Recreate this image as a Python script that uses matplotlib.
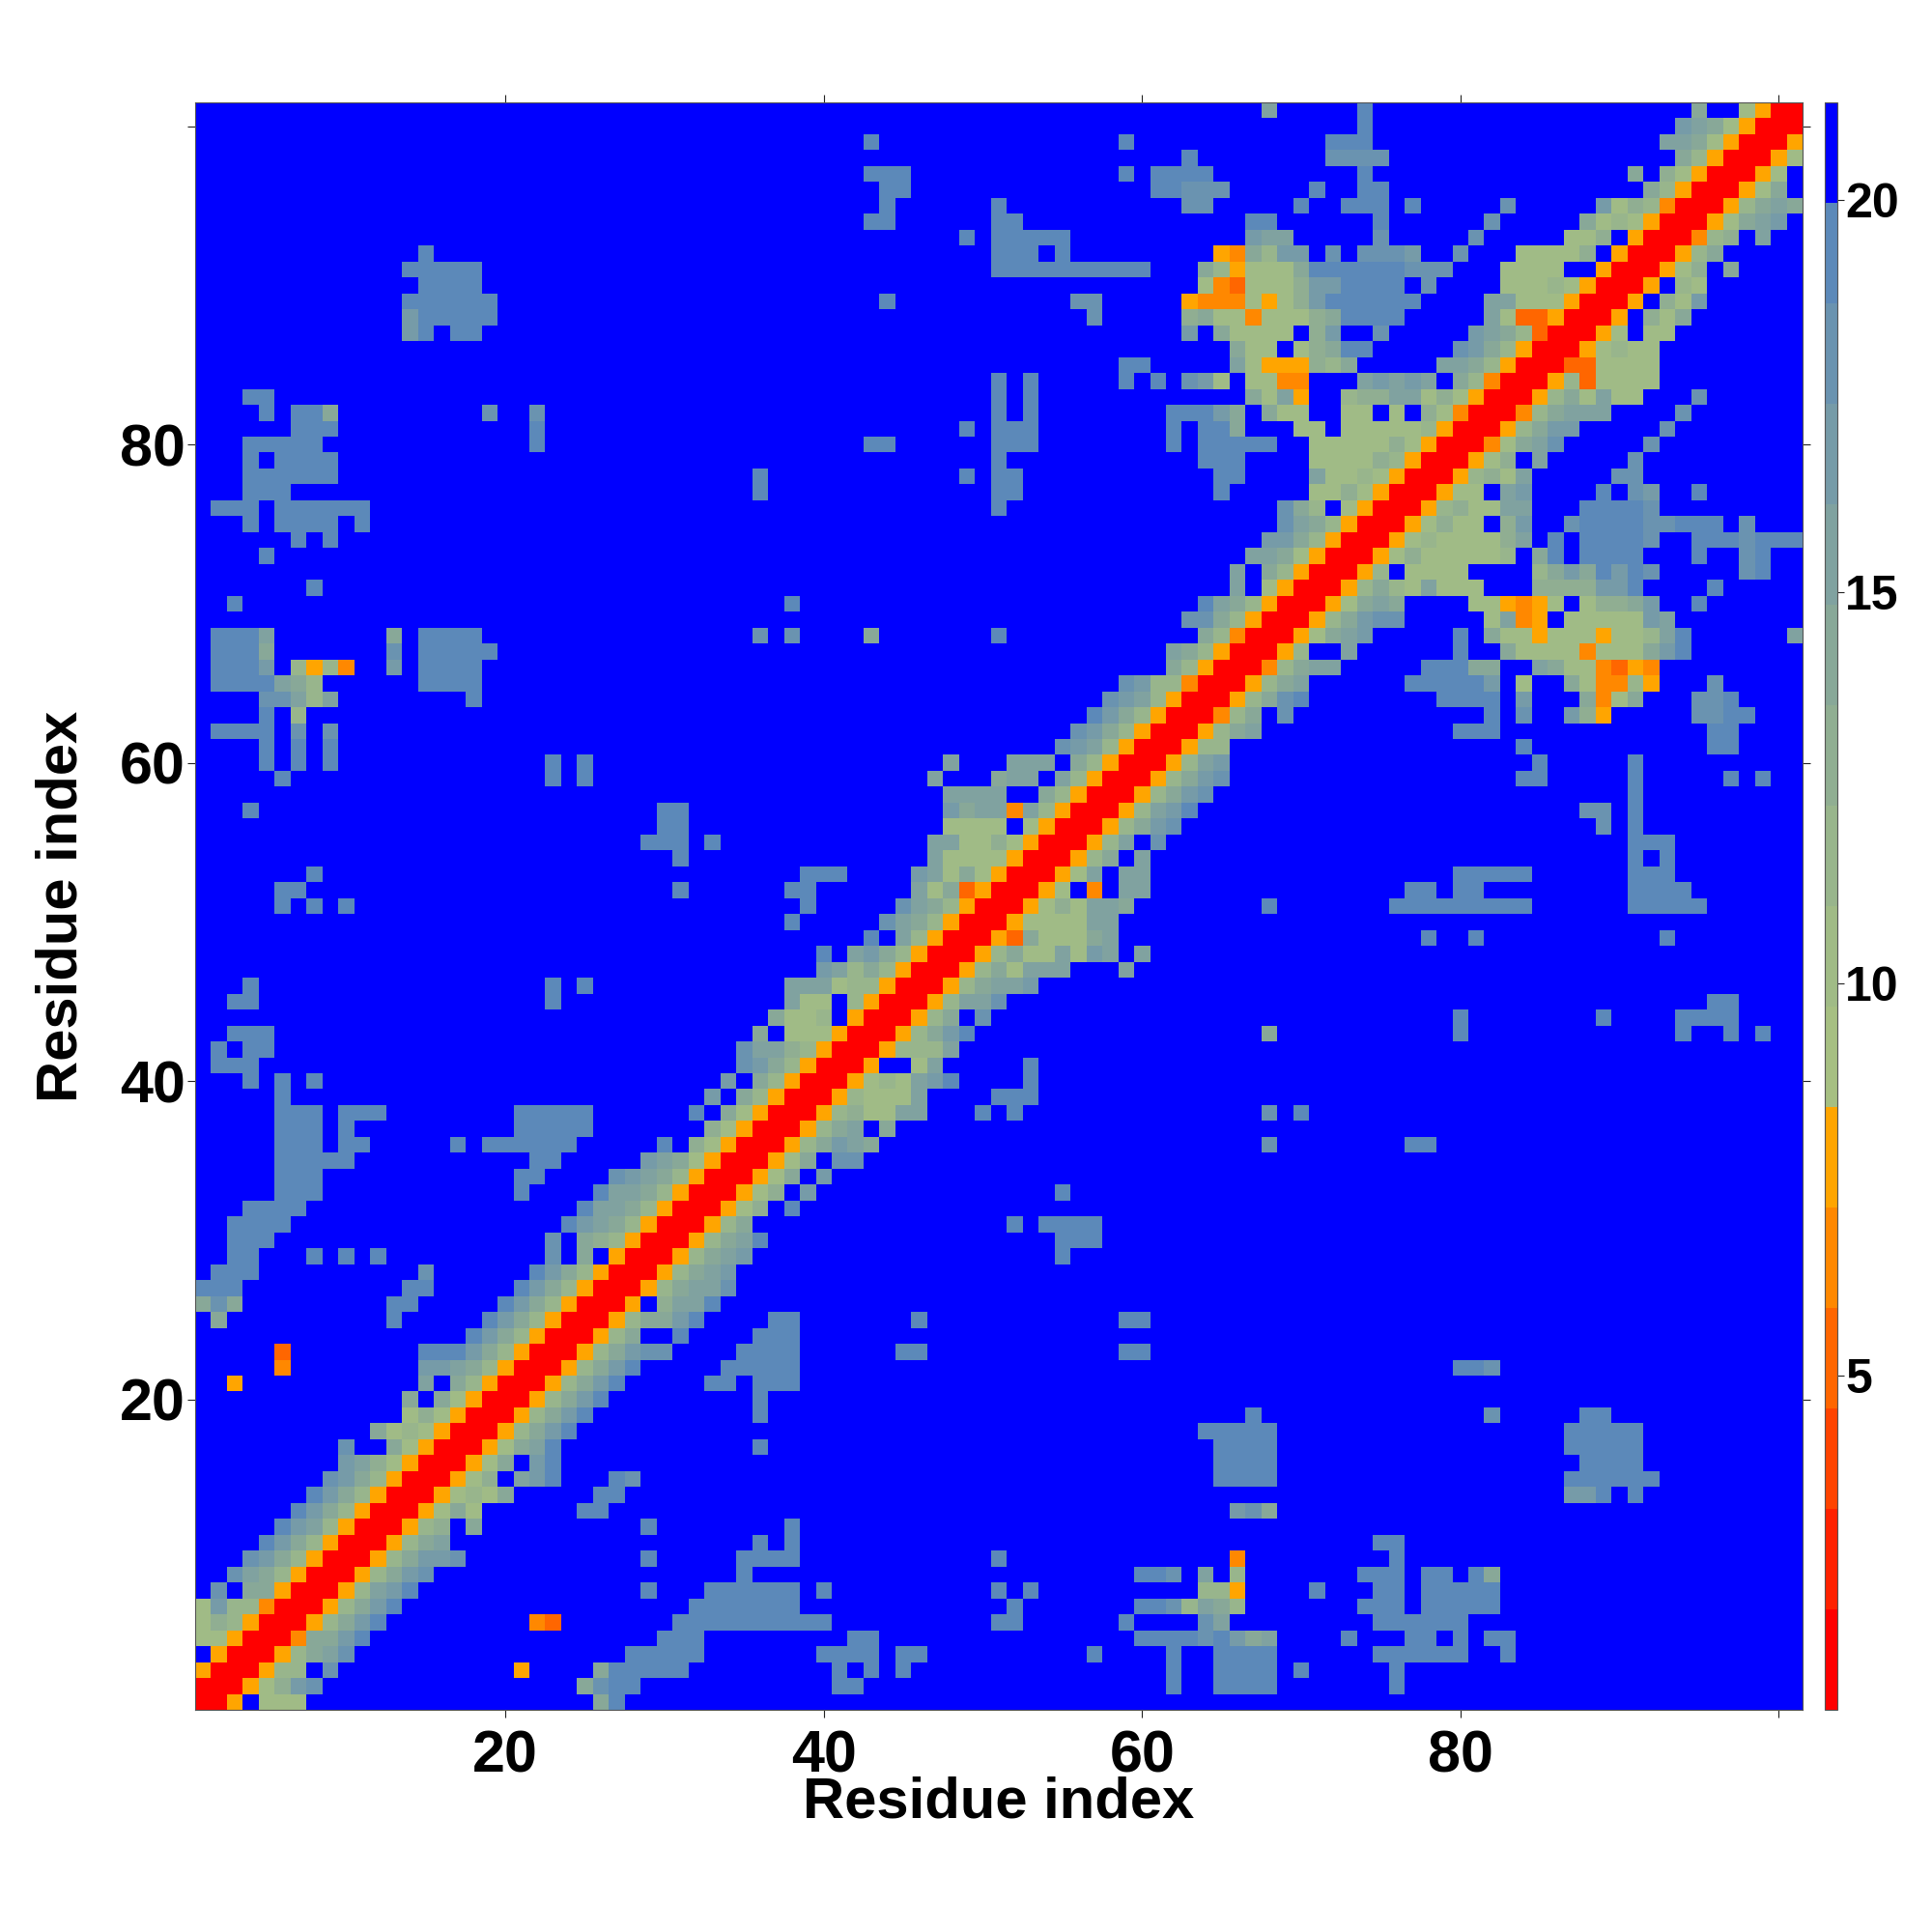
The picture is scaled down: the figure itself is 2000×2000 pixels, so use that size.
import matplotlib
matplotlib.use('Agg')
import matplotlib.pyplot as plt
from matplotlib.colors import ListedColormap, BoundaryNorm
import numpy as np

plt.rcParams['font.family'] = ['Liberation Sans', 'DejaVu Sans']
plt.rcParams['font.weight'] = 'bold'

n_res = 101
# colour bar levels, red (close) to blue (far)
level_edges = np.linspace(0.73, 21.25, 17)
level_colors = ['#ff0000', '#ff2200', '#ff4400', '#ff6600', '#ff8800', '#ffa500',
                '#a6bf82', '#a0bb86', '#98b58c', '#90ae92', '#88a898', '#80a2a0',
                '#769ba8', '#6a93b0', '#5c89b9', '#0000ff']
# one hex digit per cell = level index, every other cell is the blue level
level_digits = '0123456789abcdef'

# upper half of the map, symmetric: row -> "first_col:levels"
rows = {
    101: "68:b 74:e 95:a 98:7500",
    100: "74:e 94:cba7500",
    99: "43:e 59:e 72:eee 93:bba7500",
    98: "63:e 72:dddd 94:a8500",
    97: "43:eee 59:e 61:eeee 74:e 91:a 93:97500",
    96: "44:ee 61:eeddd 71:e 74:ee 92:a8500",
    95: "44:e 51:e 63:dd 70:e 73:eee 77:e 83:d 89:c798400",
    94: "43:ee 51:ee 67:ee 75:e 82:d 88:a787500",
    93: "49:e 51:eeeee 67:cbb 75:d 81:d 87:779 91:500",
    92: "15:e 51:eee 55:e 65:54a8cc 72:d 74:dddc 80:d 84:77779 90:500",
    91: "14:eeeee 51:eeeeeeeeee 64:a85777a 71:eeeeeeddd 83:7777 89:500",
    90: "15:eeee 64:7437779cceeee 78:d 83:77787 88:500",
    89: "14:eeeeee 44:e 56:dd 63:54447579ceeeeee 82:bb777 87:500",
    88: "14:ceeeee 57:d 63:9a7747779aeeee 82:b733500",
    87: "14:ce 17:ee 63:c 65:a7777 71:9c 75:d 81:cba8300",
    86: "66:a77 70:79a 73:ee 80:dca8500",
    85: "59:ee 66:b755598a 79:bba8500",
    84: "51:e 53:e 59:e 61:e 63:dc7 67:7744 74:bcbcb 80:a8400",
    83: "4:ee 51:e 53:e 67:a7b5 73:899bb797500",
    82: "5:e 7:eea 19:d 22:d 51:e 53:e 62:eeeca 68:a77 73:77 76:7 78:97400",
    81: "7:eee 22:e 49:e 51:eee 62:e 64:eea 70:77 73:777778500",
    80: "4:eeeee 22:e 43:ee 51:eee 62:e 64:eeeee 71:7777797500",
    79: "4:e 6:eeee 51:e 64:eee 71:777798500",
    78: "4:eeeeee 36:e 49:e 51:ee 65:ee 71:b7787500",
    77: "4:eee 36:e 51:ee 65:e 71:7797500",
    76: "2:eee 6:eeeeee 51:e 69:da8 73:7500",
    75: "4:e 6:eeee 11:e 69:dba8500",
    74: "7:e 9:e 68:cca8500",
    73: "5:e 67:bba7500",
    72: "66:b 68:a8500",
    71: "8:e 66:b 68:7500",
    70: "3:e 38:e 64:eba8500",
    69: "63:dda8500",
    68: "2:eeeb 13:a 15:eeee 36:d 38:d 43:a 51:e 64:a8400",
    67: "2:eeea 13:d 15:eeeee 62:ba8500",
    66: "2:eeec 7:8584 13:c 15:eeee 62:a8500",
    65: "2:eeeeba8 15:eeee 59:dc88400",
    64: "5:ddb8b 18:e 58:dcb8500",
    63: "5:e 7:8 57:eca8500",
    62: "2:eeee 7:d 9:d 56:dca8500",
    61: "5:e 7:e 9:e 55:dcb8500",
    60: "5:e 7:e 9:e 23:e 25:e 48:b 52:bbb 56:a8500",
    59: "6:e 23:e 25:e 47:b 51:abb 55:b8500",
    58: "48:bbbb 54:a8500",
    57: "4:e 30:ee 48:cabb4b8500",
    56: "30:ee 48:7777 53:7500",
    55: "29:eee 33:e 47:bb7797500",
    54: "31:e 47:b7777500",
    53: "8:e 39:eee 46:cb7a7500",
    52: "6:ee 31:e 38:ee 46:b7a3500",
    51: "6:e 8:e 10:e 39:e 45:dba8500",
    50: "38:e 44:dba8500",
    49: "43:e 45:b8500",
    48: "40:e 42:bca8500",
    47: "40:cb8a8500",
    46: "4:e 23:e 25:e 38:bbb788500",
    45: "3:ee 23:e 38:b77 42:8500",
    44: "37:a778 42:500",
    43: "3:eee 36:a 38:777500",
    42: "2:e 4:ee 35:dbb98500",
    41: "2:eee 35:dca8500",
    40: "4:e 6:e 8:e 34:c 36:a8500",
    39: "6:e 33:c 35:a8500",
    38: "6:eee 10:eee 21:eeeee 32:e 34:a7500",
    37: "6:eee 10:e 21:eeeee 33:97500",
    36: "6:eee 10:ee 17:e 19:eeeeee 30:e 32:97500",
    35: "6:eeeee 22:ee 29:cba7500",
    34: "6:eee 21:ee 27:dcba8500",
    33: "6:eee 21:e 26:ebba8500",
    32: "4:eeee 25:ebba8500",
    31: "3:eeee 24:ecba8500",
    30: "3:eee 23:d 25:a98500",
    29: "3:ee 8:e 10:e 12:e 23:d 25:a 27:500",
    28: "2:eee 15:d 22:eca8500",
    27: "1:eee 14:ee 21:eca8500",
    26: "1:ada 13:ee 20:eca8500",
    25: "2:a 13:e 19:eca8500",
    24: "18:eca8500",
    23: "6:3 15:eeeca8500",
    22: "6:4 15:ccba8500",
    21: "3:5 15:b 17:a8500",
    20: "14:a 16:a7500",
    19: "14:797500",
    18: "12:a787500",
    17: "10:d 13:a7500",
    16: "10:cb97500",
    15: "9:dca8500",
    14: "8:eca8500",
    13: "7:eca8500",
    12: "6:ecb8500",
    11: "5:eca8500",
    10: "4:dca8500",
    9: "3:dba8500",
    8: "2:d 4:aa500",
    7: "1:7c88400",
    6: "1:798500",
    5: "1:77500",
    4: "2:500",
    3: "1:500",
    2: "1:00",
    1: "1:0",
}

major_ticks = [20, 40, 60, 80, 100]
major_labels = ['20', '40', '60', '80', '']
cbar_ticks = [5, 10, 15, 20]

# level index -> value in the middle of its band
level_mid = (level_edges[:-1] + level_edges[1:]) / 2
z = np.full((n_res, n_res), level_mid[15])
for r, text in rows.items():
    for part in text.split():
        start, levels = part.split(':')
        for k, ch in enumerate(levels):
            c = int(start) + k
            z[r - 1, c - 1] = level_mid[level_digits.index(ch)]
            z[c - 1, r - 1] = level_mid[level_digits.index(ch)]

cmap = ListedColormap(level_colors)
norm = BoundaryNorm(level_edges, cmap.N)

fig = plt.figure(figsize=(20, 20), dpi=100, facecolor='white')
ax = fig.add_axes([0.101, 0.115, 0.832, 0.832])
edges = np.arange(n_res + 1) + 0.5
mesh = ax.pcolormesh(edges, edges, z, cmap=cmap, norm=norm, linewidth=0, rasterized=True)
ax.set_xlim(0.5, 101.5)
ax.set_ylim(0.5, 101.5)

for axis in (ax.xaxis, ax.yaxis):
    axis.set_ticks(major_ticks)
    axis.set_ticklabels(major_labels)
ax.tick_params(axis='both', which='major', direction='out', length=6, width=0.8,
               top=True, right=True, labelsize=44, color='#222222')
ax.tick_params(axis='x', pad=9)
ax.tick_params(axis='y', pad=1.5)
for s in ax.spines.values():
    s.set_linewidth(0.8)
    s.set_color('#555555')

ax.set_xlabel('Residue index', fontsize=43, fontweight='bold')
ax.set_ylabel('Residue index', fontsize=43, fontweight='bold')
ax.xaxis.set_label_coords(0.5, -0.0575)
ax.yaxis.set_label_coords(-0.083, 0.5)
ax.xaxis.label.set_verticalalignment('center')
ax.yaxis.label.set_verticalalignment('center')

cax = fig.add_axes([0.9445, 0.115, 0.0065, 0.832])
cbar = fig.colorbar(mesh, cax=cax, ticks=cbar_ticks, drawedges=False)
cbar.ax.tick_params(length=5, width=0.8, labelsize=36, pad=1, color='#222222')
cbar.outline.set_linewidth(0.8)
cbar.outline.set_edgecolor('#555555')
cbar.ax.minorticks_off()

fig.savefig('out.png', dpi=100, facecolor='white')
